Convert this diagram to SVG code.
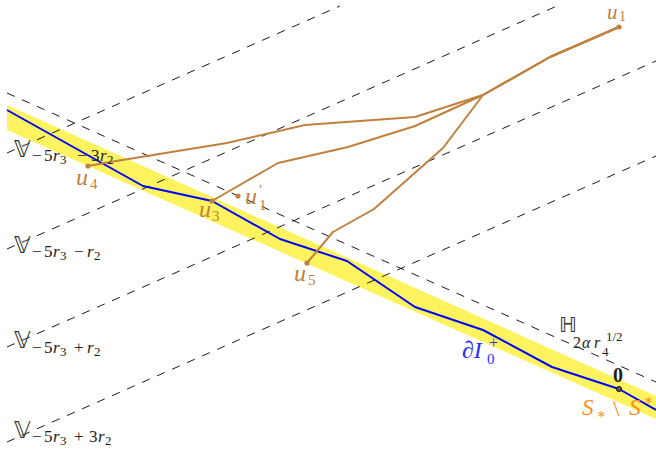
<svg xmlns="http://www.w3.org/2000/svg" width="656" height="449" viewBox="0 0 656 449">
<style>
.dash{stroke:#000;stroke-width:0.9;stroke-dasharray:8.4 8;fill:none}
.brown{stroke:#c0803e;stroke-width:2;fill:none;stroke-linejoin:round}
.dot{fill:#c0803e}
.t{font-family:"Liberation Serif","DejaVu Serif",serif;fill:#222}
.bb{font-family:"DejaVu Sans",sans-serif;fill:#333}
.it{font-style:italic}
.ut{font-family:"Liberation Serif","DejaVu Serif",serif;fill:#c0803e}
.or{font-family:"Liberation Serif","DejaVu Serif",serif;fill:#ff8c1a}
.bl{font-family:"Liberation Serif","DejaVu Serif",serif;fill:#2b2bff}
</style>
<rect width="656" height="449" fill="#fff"/>
<g id="band">
<polygon points="7,105 656,396 656,419 7,130" fill="#fdf35e"/>
</g>
<g id="connectors">
<line class="dash" x1="7" y1="153" x2="340" y2="6"/>
<line class="dash" x1="7" y1="249" x2="557" y2="6"/>
<line class="dash" x1="7" y1="347" x2="656" y2="61"/>
<line class="dash" x1="7" y1="442" x2="656" y2="156"/>
<line class="dash" x1="7" y1="93" x2="656" y2="382"/>
<polyline points="7,110 143,186 212,201 280,239 347,261 415,307 483,330 552,367 619,389 656,410" fill="none" stroke="#0000ff" stroke-width="2" stroke-linejoin="round"/>
<polyline class="brown" points="619,27 550,57 483,95 415,117 305,125 227,143 110,162 88,166"/>
<polyline class="brown" points="619,27 550,57 483,95 415,126 348,147 278,163 212,201"/>
<polyline class="brown" points="619,27 550,57 483,95 443,148 374,209 333,232 307,263"/>
</g>
<g id="u1"><circle class="dot" cx="619" cy="27" r="2.6"/><text class="ut it" x="607" y="19" font-size="21">u</text><text class="ut" x="619" y="21" font-size="14">1</text></g>
<g id="u4"><circle class="dot" cx="88" cy="166" r="2.6"/><text class="ut it" x="76" y="185" font-size="24">u</text><text class="ut" x="90" y="189" font-size="15">4</text></g>
<g id="u3"><circle class="dot" cx="212" cy="201" r="2.6"/><text class="ut it" x="199" y="217" font-size="24">u</text><text class="ut" x="212" y="221" font-size="15">3</text></g>
<g id="u1p"><circle class="dot" cx="238" cy="196" r="2.6"/><text class="ut it" x="245" y="204" font-size="24">u</text><text class="ut" x="259" y="195" font-size="15">′</text><text class="ut" x="259" y="210" font-size="15">1</text></g>
<g id="u5"><circle class="dot" cx="307" cy="263" r="2.6"/><text class="ut it" x="294" y="281" font-size="24">u</text><text class="ut" x="308" y="285" font-size="15">5</text></g>
<g id="origin"><circle cx="619" cy="389" r="2.6" fill="#555" stroke="#000" stroke-width="0.8"/><text class="t" x="613" y="382" font-size="20" font-weight="bold">0</text></g>
<g id="labelV1">
<text class="bb" x="14" y="157" font-size="23">𝕍</text>
<text class="t" y="161" font-size="17"><tspan x="32">−</tspan><tspan x="44">5</tspan><tspan x="53" class="it">r</tspan><tspan x="77">−</tspan><tspan x="91">3</tspan><tspan x="100" class="it">r</tspan></text>
<text class="t" y="164" font-size="13"><tspan x="60">3</tspan><tspan x="107">2</tspan></text>
</g>
<g id="labelV2">
<text class="bb" x="14" y="253" font-size="23">𝕍</text>
<text class="t" y="257" font-size="17"><tspan x="32">−</tspan><tspan x="44">5</tspan><tspan x="53" class="it">r</tspan><tspan x="74">−</tspan><tspan x="87" class="it">r</tspan></text>
<text class="t" y="260" font-size="13"><tspan x="60">3</tspan><tspan x="94">2</tspan></text>
</g>
<g id="labelV3">
<text class="bb" x="14" y="348" font-size="23">𝕍</text>
<text class="t" y="353" font-size="17"><tspan x="32">−</tspan><tspan x="44">5</tspan><tspan x="53" class="it">r</tspan><tspan x="74">+</tspan><tspan x="87" class="it">r</tspan></text>
<text class="t" y="356" font-size="13"><tspan x="60">3</tspan><tspan x="94">2</tspan></text>
</g>
<g id="labelV4">
<text class="bb" x="14" y="438" font-size="23">𝕍</text>
<text class="t" y="442" font-size="17"><tspan x="32">−</tspan><tspan x="44">5</tspan><tspan x="53" class="it">r</tspan><tspan x="74">+</tspan><tspan x="89">3</tspan><tspan x="98" class="it">r</tspan></text>
<text class="t" y="445" font-size="13"><tspan x="60">3</tspan><tspan x="105">2</tspan></text>
</g>
<g id="labelH">
<text class="bb" x="559" y="332" font-size="21">ℍ</text>
<text class="t" y="348" font-size="16"><tspan x="573">2</tspan><tspan x="582" class="it">α</tspan><tspan x="594" class="it">r</tspan></text>
<text class="t" x="602" y="356" font-size="13">4</text>
<text class="t" x="606" y="341" font-size="13">1/2</text>
</g>
<g id="labelI">
<text class="bl" x="462" y="358" font-size="24"><tspan>∂</tspan><tspan class="it">I</tspan></text>
<text class="bl" x="487" y="364" font-size="15">0</text>
<text class="bl" x="489" y="348" font-size="16">+</text>
</g>
<g id="labelS">
<text class="or it" x="582" y="415" font-size="23">S</text>
<text class="or" x="596" y="419" font-size="15">∗</text>
<text class="or" x="613" y="416" font-size="23">\</text>
<text class="or it" x="629" y="415" font-size="23">S</text>
<text class="or" x="643" y="405" font-size="15">∗</text>
</g>
</svg>
